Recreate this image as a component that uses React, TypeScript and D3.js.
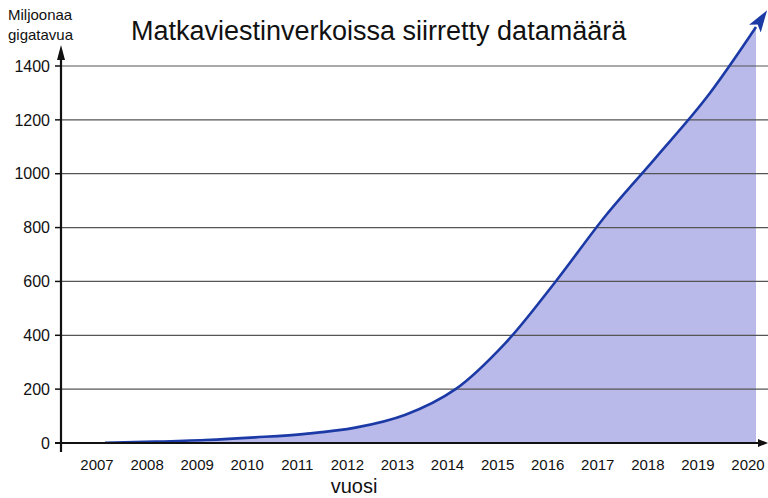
import React from "react";
import * as d3 from "d3";

const years = [2007, 2008, 2009, 2010, 2011, 2012, 2013, 2014, 2015, 2016, 2017, 2018, 2019, 2020];
const values = [1, 5, 11, 21, 34, 57, 105, 200, 372, 600, 845, 1060, 1280, 1545];
const yTicks = [0, 200, 400, 600, 800, 1000, 1200, 1400];
const title = "Matkaviestinverkoissa siirretty datamäärä";
const yTitle = ["Miljoonaa", "gigatavua"];
const xTitle = "vuosi";

const W = 768;
const H = 498;
const axisX = 61;
const axisY = 443;

export default function App() {
  const x = d3.scaleLinear().domain([2007, 2020]).range([105, 756]);
  const y = d3.scaleLinear().domain([0, 1400]).range([443, 66]);
  const pts = years.map((yr, i) => [yr, values[i]] as [number, number]);
  const line = d3
    .line<[number, number]>()
    .x((d) => x(d[0]))
    .y((d) => y(d[1]))
    .curve(d3.curveCatmullRom.alpha(0.5));
  const area = d3
    .area<[number, number]>()
    .x((d) => x(d[0]))
    .y0(y(0))
    .y1((d) => y(d[1]))
    .curve(d3.curveCatmullRom.alpha(0.5));
  const font = "'Liberation Sans', Arial, sans-serif";
  return (
    <svg
      width={W}
      height={H}
      style={{ position: "absolute", left: 0, top: 0, background: "#fff" }}
      fontFamily={font}
    >
      <defs>
        <marker
          id="arrowBlue"
          viewBox="0 0 22 14"
          refX="2"
          refY="7"
          markerWidth="22"
          markerHeight="14"
          markerUnits="userSpaceOnUse"
          orient="auto"
        >
          <path d="M0,0 L22,7 L0,14 L5,7 Z" fill="#1c3aa6" />
        </marker>
      </defs>
      <path d={area(pts) || ""} fill="#b9b9ea" />
      {yTicks.map((t) => (
        <g key={t}>
          {t > 0 && (
            <line x1={axisX} x2={W} y1={y(t)} y2={y(t)} stroke="#555" strokeWidth={1.2} />
          )}
          <line x1={55} x2={axisX} y1={y(t)} y2={y(t)} stroke="#111" strokeWidth={1.5} />
          <text x={50} y={y(t)} dy="0.36em" textAnchor="end" fontSize={16} fill="#111">
            {t}
          </text>
        </g>
      ))}
      <path
        d={line(pts) || ""}
        fill="none"
        stroke="#1c3aa6"
        strokeWidth={2.6}
        markerEnd="url(#arrowBlue)"
      />
      {/* x axis */}
      <line x1={55} x2={760} y1={axisY} y2={axisY} stroke="#111" strokeWidth={2.2} />
      <path d={`M${W},${axisY} L${W - 10},${axisY - 4} L${W - 10},${axisY + 4} Z`} fill="#111" />
      {/* y axis */}
      <line x1={axisX} x2={axisX} y1={452} y2={58} stroke="#111" strokeWidth={2.2} />
      <path d={`M${axisX},45 L${axisX - 4},60 L${axisX + 4},60 Z`} fill="#111" />
      {years.map((yr) => (
        <text key={yr} x={x(yr) - 8} y={470} textAnchor="middle" fontSize={15} fill="#111">
          {yr}
        </text>
      ))}
      <text x={354} y={493} textAnchor="middle" fontSize={20} fill="#111">
        {xTitle}
      </text>
      <text x={131} y={40} fontSize={27} fill="#111">
        {title}
      </text>
      {yTitle.map((s, i) => (
        <text key={s} x={8} y={20 + i * 20} fontSize={15} fill="#111">
          {s}
        </text>
      ))}
    </svg>
  );
}
